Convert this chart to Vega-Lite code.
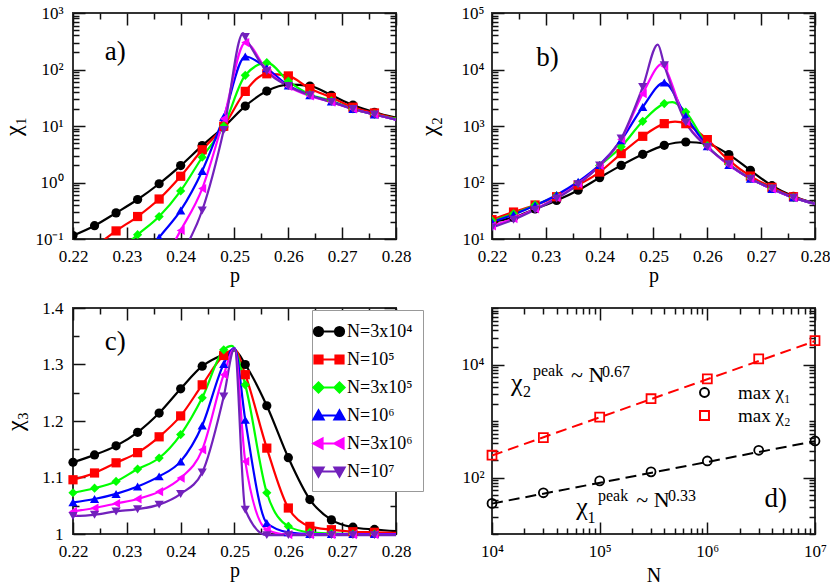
{
"$schema": "https://vega.github.io/schema/vega-lite/v6.json",
"padding": {"left": 0, "top": 3, "right": 5, "bottom": 0},
"background": "white",
"config": {
  "font": "Liberation Serif",
  "view": {"stroke": "#333333", "strokeWidth": 2},
  "axis": {"grid": false, "domain": false, "labelFont": "Liberation Serif", "labelFontSize": 17, "labelColor": "black", "titleFont": "Liberation Serif", "titleFontWeight": "normal", "titleColor": "black", "tickColor": "#111111", "tickWidth": 1.5, "labelOverlap": false, "labelFlush": false, "labelBound": false},
  "legend": {"labelFont": "Liberation Serif", "labelColor": "black"},
  "text": {"font": "Liberation Serif", "color": "black"}
},
"datasets": {
"a": [
{"s":"N=3x10⁴","p":0.22,"v":0.115,"m":1},{"s":"N=3x10⁴","p":0.224,"v":0.172,"m":1},{"s":"N=3x10⁴","p":0.228,"v":0.29,"m":1},{"s":"N=3x10⁴","p":0.232,"v":0.5,"m":1},{"s":"N=3x10⁴","p":0.236,"v":0.95,"m":1},{"s":"N=3x10⁴","p":0.24,"v":1.99,"m":1},{"s":"N=3x10⁴","p":0.244,"v":4.5,"m":1},{"s":"N=3x10⁴","p":0.248,"v":9.6,"m":1},{"s":"N=3x10⁴","p":0.252,"v":22.5,"m":1},{"s":"N=3x10⁴","p":0.256,"v":41.5,"m":1},{"s":"N=3x10⁴","p":0.26,"v":54,"m":1},{"s":"N=3x10⁴","p":0.264,"v":51,"m":1},{"s":"N=3x10⁴","p":0.268,"v":35,"m":1},{"s":"N=3x10⁴","p":0.272,"v":23.5,"m":1},{"s":"N=3x10⁴","p":0.276,"v":17.5,"m":1},{"s":"N=3x10⁴","p":0.28,"v":14,"m":0},
{"s":"N=10⁵","p":0.22,"v":0.038,"m":1},{"s":"N=10⁵","p":0.224,"v":0.072,"m":1},{"s":"N=10⁵","p":0.228,"v":0.139,"m":1},{"s":"N=10⁵","p":0.232,"v":0.25,"m":1},{"s":"N=10⁵","p":0.236,"v":0.51,"m":1},{"s":"N=10⁵","p":0.24,"v":1.29,"m":1},{"s":"N=10⁵","p":0.244,"v":3.8,"m":1},{"s":"N=10⁵","p":0.248,"v":9.9,"m":1},{"s":"N=10⁵","p":0.252,"v":41,"m":1},{"s":"N=10⁵","p":0.256,"v":84,"m":1},{"s":"N=10⁵","p":0.26,"v":77,"m":1},{"s":"N=10⁵","p":0.264,"v":46,"m":1},{"s":"N=10⁵","p":0.268,"v":32,"m":1},{"s":"N=10⁵","p":0.272,"v":21.5,"m":1},{"s":"N=10⁵","p":0.276,"v":17,"m":1},{"s":"N=10⁵","p":0.28,"v":13.5,"m":0},
{"s":"N=3x10⁵","p":0.228,"v":0.056,"m":1},{"s":"N=3x10⁵","p":0.232,"v":0.119,"m":1},{"s":"N=3x10⁵","p":0.236,"v":0.25,"m":1},{"s":"N=3x10⁵","p":0.24,"v":0.71,"m":1},{"s":"N=3x10⁵","p":0.244,"v":2.8,"m":1},{"s":"N=3x10⁵","p":0.248,"v":10,"m":1},{"s":"N=3x10⁵","p":0.252,"v":79,"m":1},{"s":"N=3x10⁵","p":0.256,"v":132,"m":1},{"s":"N=3x10⁵","p":0.26,"v":62,"m":1},{"s":"N=3x10⁵","p":0.264,"v":36,"m":1},{"s":"N=3x10⁵","p":0.268,"v":28,"m":1},{"s":"N=3x10⁵","p":0.272,"v":20,"m":1},{"s":"N=3x10⁵","p":0.276,"v":16,"m":1},{"s":"N=3x10⁵","p":0.28,"v":13.5,"m":0},
{"s":"N=10⁶","p":0.232,"v":0.03,"m":1},{"s":"N=10⁶","p":0.236,"v":0.106,"m":1},{"s":"N=10⁶","p":0.24,"v":0.32,"m":1},{"s":"N=10⁶","p":0.244,"v":1.6,"m":1},{"s":"N=10⁶","p":0.248,"v":14.4,"m":1},{"s":"N=10⁶","p":0.252,"v":170,"m":1},{"s":"N=10⁶","p":0.256,"v":105,"m":1},{"s":"N=10⁶","p":0.26,"v":52,"m":1},{"s":"N=10⁶","p":0.264,"v":35,"m":1},{"s":"N=10⁶","p":0.268,"v":27,"m":1},{"s":"N=10⁶","p":0.272,"v":20,"m":1},{"s":"N=10⁶","p":0.276,"v":16,"m":1},{"s":"N=10⁶","p":0.28,"v":13,"m":0},
{"s":"N=3x10⁶","p":0.236,"v":0.03,"m":1},{"s":"N=3x10⁶","p":0.24,"v":0.142,"m":1},{"s":"N=3x10⁶","p":0.244,"v":0.78,"m":1},{"s":"N=3x10⁶","p":0.248,"v":13.5,"m":1},{"s":"N=3x10⁶","p":0.252,"v":300,"m":1},{"s":"N=3x10⁶","p":0.256,"v":98,"m":1},{"s":"N=3x10⁶","p":0.26,"v":50,"m":1},{"s":"N=3x10⁶","p":0.264,"v":34,"m":1},{"s":"N=3x10⁶","p":0.268,"v":26.5,"m":1},{"s":"N=3x10⁶","p":0.272,"v":20,"m":1},{"s":"N=3x10⁶","p":0.276,"v":16,"m":1},{"s":"N=3x10⁶","p":0.28,"v":13,"m":0},
{"s":"N=10⁷","p":0.24,"v":0.05,"m":1},{"s":"N=10⁷","p":0.244,"v":0.32,"m":1},{"s":"N=10⁷","p":0.248,"v":8.5,"m":1},{"s":"N=10⁷","p":0.2516,"v":440,"m":0},{"s":"N=10⁷","p":0.252,"v":376,"m":1},{"s":"N=10⁷","p":0.256,"v":93,"m":1},{"s":"N=10⁷","p":0.26,"v":51,"m":1},{"s":"N=10⁷","p":0.264,"v":35,"m":1},{"s":"N=10⁷","p":0.268,"v":26.5,"m":1},{"s":"N=10⁷","p":0.272,"v":20,"m":1},{"s":"N=10⁷","p":0.276,"v":16,"m":1},{"s":"N=10⁷","p":0.28,"v":13,"m":0}
],
"b": [
{"s":"N=3x10⁴","p":0.22,"v":20,"m":1},{"s":"N=3x10⁴","p":0.224,"v":24,"m":1},{"s":"N=3x10⁴","p":0.228,"v":34,"m":1},{"s":"N=3x10⁴","p":0.232,"v":48,"m":1},{"s":"N=3x10⁴","p":0.236,"v":73,"m":1},{"s":"N=3x10⁴","p":0.24,"v":122,"m":1},{"s":"N=3x10⁴","p":0.244,"v":201,"m":1},{"s":"N=3x10⁴","p":0.248,"v":316,"m":1},{"s":"N=3x10⁴","p":0.252,"v":455,"m":1},{"s":"N=3x10⁴","p":0.256,"v":521,"m":1},{"s":"N=3x10⁴","p":0.26,"v":485,"m":1},{"s":"N=3x10⁴","p":0.264,"v":312,"m":1},{"s":"N=3x10⁴","p":0.268,"v":164,"m":1},{"s":"N=3x10⁴","p":0.272,"v":88,"m":1},{"s":"N=3x10⁴","p":0.276,"v":57,"m":1},{"s":"N=3x10⁴","p":0.28,"v":43,"m":0},
{"s":"N=10⁵","p":0.22,"v":22,"m":1},{"s":"N=10⁵","p":0.224,"v":30,"m":1},{"s":"N=10⁵","p":0.228,"v":40,"m":1},{"s":"N=10⁵","p":0.232,"v":56,"m":1},{"s":"N=10⁵","p":0.236,"v":90,"m":1},{"s":"N=10⁵","p":0.24,"v":153,"m":1},{"s":"N=10⁵","p":0.244,"v":325,"m":1},{"s":"N=10⁵","p":0.248,"v":657,"m":1},{"s":"N=10⁵","p":0.252,"v":1100,"m":1},{"s":"N=10⁵","p":0.254,"v":1200,"m":0},{"s":"N=10⁵","p":0.256,"v":1100,"m":1},{"s":"N=10⁵","p":0.26,"v":574,"m":1},{"s":"N=10⁵","p":0.264,"v":247,"m":1},{"s":"N=10⁵","p":0.268,"v":130,"m":1},{"s":"N=10⁵","p":0.272,"v":82,"m":1},{"s":"N=10⁵","p":0.276,"v":56,"m":1},{"s":"N=10⁵","p":0.28,"v":42,"m":0},
{"s":"N=3x10⁵","p":0.22,"v":21,"m":1},{"s":"N=3x10⁵","p":0.224,"v":28,"m":1},{"s":"N=3x10⁵","p":0.228,"v":40,"m":1},{"s":"N=3x10⁵","p":0.232,"v":58,"m":1},{"s":"N=3x10⁵","p":0.236,"v":97,"m":1},{"s":"N=3x10⁵","p":0.24,"v":200,"m":1},{"s":"N=3x10⁵","p":0.244,"v":430,"m":1},{"s":"N=3x10⁵","p":0.248,"v":1210,"m":1},{"s":"N=3x10⁵","p":0.252,"v":2490,"m":1},{"s":"N=3x10⁵","p":0.2535,"v":2650,"m":0},{"s":"N=3x10⁵","p":0.256,"v":1770,"m":1},{"s":"N=3x10⁵","p":0.26,"v":450,"m":1},{"s":"N=3x10⁵","p":0.264,"v":210,"m":1},{"s":"N=3x10⁵","p":0.268,"v":118,"m":1},{"s":"N=3x10⁵","p":0.272,"v":78,"m":1},{"s":"N=3x10⁵","p":0.276,"v":54,"m":1},{"s":"N=3x10⁵","p":0.28,"v":42,"m":0},
{"s":"N=10⁶","p":0.22,"v":20,"m":1},{"s":"N=10⁶","p":0.224,"v":27,"m":1},{"s":"N=10⁶","p":0.228,"v":39,"m":1},{"s":"N=10⁶","p":0.232,"v":60,"m":1},{"s":"N=10⁶","p":0.236,"v":103,"m":1},{"s":"N=10⁶","p":0.24,"v":205,"m":1},{"s":"N=10⁶","p":0.244,"v":560,"m":1},{"s":"N=10⁶","p":0.248,"v":2170,"m":1},{"s":"N=10⁶","p":0.252,"v":5860,"m":1},{"s":"N=10⁶","p":0.256,"v":1500,"m":1},{"s":"N=10⁶","p":0.26,"v":440,"m":1},{"s":"N=10⁶","p":0.264,"v":205,"m":1},{"s":"N=10⁶","p":0.268,"v":117,"m":1},{"s":"N=10⁶","p":0.272,"v":77,"m":1},{"s":"N=10⁶","p":0.276,"v":54,"m":1},{"s":"N=10⁶","p":0.28,"v":42,"m":0},
{"s":"N=3x10⁶","p":0.22,"v":17,"m":1},{"s":"N=3x10⁶","p":0.224,"v":23,"m":1},{"s":"N=3x10⁶","p":0.228,"v":34,"m":1},{"s":"N=3x10⁶","p":0.232,"v":54,"m":1},{"s":"N=3x10⁶","p":0.236,"v":95,"m":1},{"s":"N=3x10⁶","p":0.24,"v":200,"m":1},{"s":"N=3x10⁶","p":0.244,"v":580,"m":1},{"s":"N=3x10⁶","p":0.248,"v":3740,"m":1},{"s":"N=3x10⁶","p":0.2517,"v":12700,"m":0},{"s":"N=3x10⁶","p":0.252,"v":11500,"m":1},{"s":"N=3x10⁶","p":0.256,"v":1200,"m":1},{"s":"N=3x10⁶","p":0.26,"v":430,"m":1},{"s":"N=3x10⁶","p":0.264,"v":205,"m":1},{"s":"N=3x10⁶","p":0.268,"v":117,"m":1},{"s":"N=3x10⁶","p":0.272,"v":77,"m":1},{"s":"N=3x10⁶","p":0.276,"v":54,"m":1},{"s":"N=3x10⁶","p":0.28,"v":42,"m":0},
{"s":"N=10⁷","p":0.22,"v":16,"m":1},{"s":"N=10⁷","p":0.224,"v":22,"m":1},{"s":"N=10⁷","p":0.228,"v":33,"m":1},{"s":"N=10⁷","p":0.232,"v":52,"m":1},{"s":"N=10⁷","p":0.236,"v":93,"m":1},{"s":"N=10⁷","p":0.24,"v":200,"m":1},{"s":"N=10⁷","p":0.244,"v":600,"m":1},{"s":"N=10⁷","p":0.248,"v":4900,"m":1},{"s":"N=10⁷","p":0.2508,"v":27600,"m":0},{"s":"N=10⁷","p":0.252,"v":11900,"m":1},{"s":"N=10⁷","p":0.256,"v":1150,"m":1},{"s":"N=10⁷","p":0.26,"v":425,"m":1},{"s":"N=10⁷","p":0.264,"v":210,"m":1},{"s":"N=10⁷","p":0.268,"v":117,"m":1},{"s":"N=10⁷","p":0.272,"v":78,"m":1},{"s":"N=10⁷","p":0.276,"v":54,"m":1},{"s":"N=10⁷","p":0.28,"v":42,"m":0}
],
"c": [
{"s":"N=3x10⁴","p":0.22,"v":1.127,"m":1},{"s":"N=3x10⁴","p":0.224,"v":1.14,"m":1},{"s":"N=3x10⁴","p":0.228,"v":1.156,"m":1},{"s":"N=3x10⁴","p":0.232,"v":1.18,"m":1},{"s":"N=3x10⁴","p":0.236,"v":1.214,"m":1},{"s":"N=3x10⁴","p":0.24,"v":1.257,"m":1},{"s":"N=3x10⁴","p":0.244,"v":1.297,"m":1},{"s":"N=3x10⁴","p":0.248,"v":1.318,"m":1},{"s":"N=3x10⁴","p":0.25,"v":1.325,"m":0},{"s":"N=3x10⁴","p":0.252,"v":1.3,"m":1},{"s":"N=3x10⁴","p":0.256,"v":1.227,"m":1},{"s":"N=3x10⁴","p":0.26,"v":1.135,"m":1},{"s":"N=3x10⁴","p":0.264,"v":1.061,"m":1},{"s":"N=3x10⁴","p":0.268,"v":1.025,"m":1},{"s":"N=3x10⁴","p":0.272,"v":1.012,"m":1},{"s":"N=3x10⁴","p":0.276,"v":1.008,"m":1},{"s":"N=3x10⁴","p":0.28,"v":1.005,"m":0},
{"s":"N=10⁵","p":0.22,"v":1.096,"m":1},{"s":"N=10⁵","p":0.224,"v":1.108,"m":1},{"s":"N=10⁵","p":0.228,"v":1.126,"m":1},{"s":"N=10⁵","p":0.232,"v":1.144,"m":1},{"s":"N=10⁵","p":0.236,"v":1.172,"m":1},{"s":"N=10⁵","p":0.24,"v":1.209,"m":1},{"s":"N=10⁵","p":0.244,"v":1.264,"m":1},{"s":"N=10⁵","p":0.248,"v":1.316,"m":1},{"s":"N=10⁵","p":0.25,"v":1.327,"m":0},{"s":"N=10⁵","p":0.252,"v":1.282,"m":1},{"s":"N=10⁵","p":0.256,"v":1.152,"m":1},{"s":"N=10⁵","p":0.26,"v":1.046,"m":1},{"s":"N=10⁵","p":0.264,"v":1.0135,"m":1},{"s":"N=10⁵","p":0.268,"v":1.0076,"m":1},{"s":"N=10⁵","p":0.272,"v":1.004,"m":1},{"s":"N=10⁵","p":0.276,"v":1.003,"m":1},{"s":"N=10⁵","p":0.28,"v":1.002,"m":0},
{"s":"N=3x10⁵","p":0.22,"v":1.073,"m":1},{"s":"N=3x10⁵","p":0.224,"v":1.081,"m":1},{"s":"N=3x10⁵","p":0.228,"v":1.093,"m":1},{"s":"N=3x10⁵","p":0.232,"v":1.115,"m":1},{"s":"N=3x10⁵","p":0.236,"v":1.1345,"m":1},{"s":"N=3x10⁵","p":0.24,"v":1.176,"m":1},{"s":"N=3x10⁵","p":0.244,"v":1.241,"m":1},{"s":"N=3x10⁵","p":0.248,"v":1.326,"m":1},{"s":"N=3x10⁵","p":0.2495,"v":1.333,"m":0},{"s":"N=3x10⁵","p":0.252,"v":1.264,"m":1},{"s":"N=3x10⁵","p":0.256,"v":1.073,"m":1},{"s":"N=3x10⁵","p":0.26,"v":1.0135,"m":1},{"s":"N=3x10⁵","p":0.264,"v":1.003,"m":1},{"s":"N=3x10⁵","p":0.268,"v":1.001,"m":1},{"s":"N=3x10⁵","p":0.272,"v":1.0,"m":1},{"s":"N=3x10⁵","p":0.276,"v":1.0,"m":1},{"s":"N=3x10⁵","p":0.28,"v":1.0,"m":0},
{"s":"N=10⁶","p":0.22,"v":1.056,"m":1},{"s":"N=10⁶","p":0.224,"v":1.062,"m":1},{"s":"N=10⁶","p":0.228,"v":1.071,"m":1},{"s":"N=10⁶","p":0.232,"v":1.084,"m":1},{"s":"N=10⁶","p":0.236,"v":1.102,"m":1},{"s":"N=10⁶","p":0.24,"v":1.1285,"m":1},{"s":"N=10⁶","p":0.244,"v":1.192,"m":1},{"s":"N=10⁶","p":0.248,"v":1.301,"m":1},{"s":"N=10⁶","p":0.25,"v":1.329,"m":0},{"s":"N=10⁶","p":0.252,"v":1.202,"m":1},{"s":"N=10⁶","p":0.256,"v":1.0195,"m":1},{"s":"N=10⁶","p":0.26,"v":1.003,"m":1},{"s":"N=10⁶","p":0.264,"v":1.0,"m":1},{"s":"N=10⁶","p":0.268,"v":1.0,"m":1},{"s":"N=10⁶","p":0.272,"v":1.0,"m":1},{"s":"N=10⁶","p":0.276,"v":1.0,"m":1},{"s":"N=10⁶","p":0.28,"v":1.0,"m":0},
{"s":"N=3x10⁶","p":0.22,"v":1.04,"m":1},{"s":"N=3x10⁶","p":0.224,"v":1.046,"m":1},{"s":"N=3x10⁶","p":0.228,"v":1.054,"m":1},{"s":"N=3x10⁶","p":0.232,"v":1.062,"m":1},{"s":"N=3x10⁶","p":0.236,"v":1.075,"m":1},{"s":"N=3x10⁶","p":0.24,"v":1.099,"m":1},{"s":"N=3x10⁶","p":0.244,"v":1.149,"m":1},{"s":"N=3x10⁶","p":0.248,"v":1.282,"m":1},{"s":"N=3x10⁶","p":0.25,"v":1.328,"m":0},{"s":"N=3x10⁶","p":0.252,"v":1.1285,"m":1},{"s":"N=3x10⁶","p":0.256,"v":1.0076,"m":1},{"s":"N=3x10⁶","p":0.26,"v":0.999,"m":1},{"s":"N=3x10⁶","p":0.264,"v":0.999,"m":1},{"s":"N=3x10⁶","p":0.268,"v":0.999,"m":1},{"s":"N=3x10⁶","p":0.272,"v":0.999,"m":1},{"s":"N=3x10⁶","p":0.276,"v":0.999,"m":1},{"s":"N=3x10⁶","p":0.28,"v":0.999,"m":0},
{"s":"N=10⁷","p":0.22,"v":1.032,"m":1},{"s":"N=10⁷","p":0.224,"v":1.034,"m":1},{"s":"N=10⁷","p":0.228,"v":1.04,"m":1},{"s":"N=10⁷","p":0.232,"v":1.044,"m":1},{"s":"N=10⁷","p":0.236,"v":1.052,"m":1},{"s":"N=10⁷","p":0.24,"v":1.071,"m":1},{"s":"N=10⁷","p":0.244,"v":1.109,"m":1},{"s":"N=10⁷","p":0.248,"v":1.2435,"m":1},{"s":"N=10⁷","p":0.25,"v":1.328,"m":0},{"s":"N=10⁷","p":0.252,"v":1.043,"m":1},{"s":"N=10⁷","p":0.256,"v":0.998,"m":1},{"s":"N=10⁷","p":0.26,"v":0.998,"m":1},{"s":"N=10⁷","p":0.264,"v":0.998,"m":1},{"s":"N=10⁷","p":0.268,"v":0.998,"m":1},{"s":"N=10⁷","p":0.272,"v":0.998,"m":1},{"s":"N=10⁷","p":0.276,"v":0.998,"m":1},{"s":"N=10⁷","p":0.28,"v":0.998,"m":0}
],
"dpts": [
{"s":"max χ₁","N":10000,"v":34.8},{"s":"max χ₁","N":30000,"v":53.6},{"s":"max χ₁","N":100000,"v":87},{"s":"max χ₁","N":300000,"v":126},{"s":"max χ₁","N":1000000,"v":196},{"s":"max χ₁","N":3000000,"v":303},{"s":"max χ₁","N":10000000,"v":443},
{"s":"max χ₂","N":10000,"v":248},{"s":"max χ₂","N":30000,"v":508},{"s":"max χ₂","N":100000,"v":1173},{"s":"max χ₂","N":300000,"v":2477},{"s":"max χ₂","N":1000000,"v":5580},{"s":"max χ₂","N":3000000,"v":12600},{"s":"max χ₂","N":10000000,"v":26500}
],
"dfit": [
{"s":"max χ₁","N":10000,"v":34.5},{"s":"max χ₁","N":10000000,"v":440},
{"s":"max χ₂","N":10000,"v":245},{"s":"max χ₂","N":10000000,"v":26000}
]
},
"resolve": {"scale": {"color": "independent", "shape": "independent", "stroke": "independent"}, "legend": {"color": "independent", "shape": "independent", "stroke": "independent"}},
"columns": 2,
"bounds": "flush",
"spacing": {"row": 69, "column": 96},
"concat": [
{
 "width": 323, "height": 226,
 "data": {"name": "a"},
 "layer": [
  {"mark": {"type": "line", "interpolate": "monotone", "strokeWidth": 2.2, "clip": true},
   "encoding": {
    "x": {"field": "p", "type": "quantitative", "scale": {"domain": [0.22, 0.28], "nice": false, "zero": false},
      "axis": {"orient": "bottom", "values": [0.22,0.225,0.23,0.235,0.24,0.245,0.25,0.255,0.26,0.265,0.27,0.275,0.28], "labelFont": "Liberation Serif", "labelExpr": "abs(datum.value*100-round(datum.value*100))<0.001 ? format(datum.value,'.2f') : ''", "tickSize": {"condition": {"test": "abs(datum.value*100-round(datum.value*100))<0.001", "value": -12}, "value": -6}, "labelPadding": 21, "title": "p", "titleFontSize": 20, "titlePadding": -5}},
    "y": {"field": "v", "type": "quantitative", "scale": {"type": "log", "domain": [0.1, 1000], "nice": false},
      "axis": {"orient": "left", "values": [0.1,0.2,0.3,0.4,0.5,0.6,0.7,0.8,0.9,1,2,3,4,5,6,7,8,9,10,20,30,40,50,60,70,80,90,100,200,300,400,500,600,700,800,900,1000], "labelFont": "Liberation Serif", "labelExpr": "abs(log(datum.value)/LN10-round(log(datum.value)/LN10))<0.001 ? '10'+(datum.value<1?'⁻':'')+['⁰','¹','²','³','⁴','⁵','⁶','⁷','⁸','⁹'][abs(round(log(datum.value)/LN10))] : ''", "tickSize": {"condition": {"test": "abs(log(datum.value)/LN10-round(log(datum.value)/LN10))<0.001", "value": -12}, "value": -6}, "labelPadding": 22, "title": "χ₁", "titleFontSize": 24, "titlePadding": 9}},
    "color": {"field": "s", "type": "nominal", "scale": {"domain": ["N=3x10⁴","N=10⁵","N=3x10⁵","N=10⁶","N=3x10⁶","N=10⁷"], "range": ["#000000","#ff0000","#00ff00","#0000ff","#ff00ff","#7221bc"]}, "legend": null}
   }},
  {"transform": [{"filter": "datum.m == 1"}],
   "mark": {"type": "point", "filled": true, "size": 85, "opacity": 1, "clip": true},
   "encoding": {
    "x": {"field": "p", "type": "quantitative", "axis": {"orient": "top", "values": [0.22,0.225,0.23,0.235,0.24,0.245,0.25,0.255,0.26,0.265,0.27,0.275,0.28], "labels": false, "title": null, "tickSize": {"condition": {"test": "abs(datum.value*100-round(datum.value*100))<0.001", "value": -12}, "value": -6}}},
    "y": {"field": "v", "type": "quantitative", "axis": {"orient": "right", "values": [0.1,0.2,0.3,0.4,0.5,0.6,0.7,0.8,0.9,1,2,3,4,5,6,7,8,9,10,20,30,40,50,60,70,80,90,100,200,300,400,500,600,700,800,900,1000], "labels": false, "title": null, "tickSize": {"condition": {"test": "abs(log(datum.value)/LN10-round(log(datum.value)/LN10))<0.001", "value": -12}, "value": -6}}},
    "color": {"field": "s", "type": "nominal", "legend": null},
    "shape": {"field": "s", "type": "nominal", "scale": {"domain": ["N=3x10⁴","N=10⁵","N=3x10⁵","N=10⁶","N=3x10⁶","N=10⁷"], "range": ["circle","square","diamond","triangle-up","triangle-left","triangle-down"]}, "legend": null}
   }},
  {"data": {"values": [{"t": "a)", "p": 0.2259, "v": 145}]},
   "mark": {"type": "text", "align": "left", "baseline": "alphabetic", "fontSize": 27},
   "encoding": {"x": {"field": "p", "type": "quantitative", "axis": null}, "y": {"field": "v", "type": "quantitative", "axis": null}, "text": {"field": "t"}}}
 ],
 "resolve": {"axis": {"x": "independent", "y": "independent"}}
},
{
 "width": 323, "height": 226,
 "data": {"name": "b"},
 "layer": [
  {"mark": {"type": "line", "interpolate": "monotone", "strokeWidth": 2.2, "clip": true},
   "encoding": {
    "x": {"field": "p", "type": "quantitative", "scale": {"domain": [0.22, 0.28], "nice": false, "zero": false},
      "axis": {"orient": "bottom", "values": [0.22,0.225,0.23,0.235,0.24,0.245,0.25,0.255,0.26,0.265,0.27,0.275,0.28], "labelFont": "Liberation Serif", "labelExpr": "abs(datum.value*100-round(datum.value*100))<0.001 ? format(datum.value,'.2f') : ''", "tickSize": {"condition": {"test": "abs(datum.value*100-round(datum.value*100))<0.001", "value": -12}, "value": -6}, "labelPadding": 21, "title": "p", "titleFontSize": 20, "titlePadding": -5}},
    "y": {"field": "v", "type": "quantitative", "scale": {"type": "log", "domain": [10, 100000], "nice": false},
      "axis": {"orient": "left", "values": [10,20,30,40,50,60,70,80,90,100,200,300,400,500,600,700,800,900,1000,2000,3000,4000,5000,6000,7000,8000,9000,10000,20000,30000,40000,50000,60000,70000,80000,90000,100000], "labelFont": "Liberation Serif", "labelExpr": "abs(log(datum.value)/LN10-round(log(datum.value)/LN10))<0.001 ? '10'+(datum.value<1?'⁻':'')+['⁰','¹','²','³','⁴','⁵','⁶','⁷','⁸','⁹'][abs(round(log(datum.value)/LN10))] : ''", "tickSize": {"condition": {"test": "abs(log(datum.value)/LN10-round(log(datum.value)/LN10))<0.001", "value": -12}, "value": -6}, "labelPadding": 20, "title": "χ₂", "titleFontSize": 24, "titlePadding": 20}},
    "color": {"field": "s", "type": "nominal", "scale": {"domain": ["N=3x10⁴","N=10⁵","N=3x10⁵","N=10⁶","N=3x10⁶","N=10⁷"], "range": ["#000000","#ff0000","#00ff00","#0000ff","#ff00ff","#7221bc"]}, "legend": null}
   }},
  {"transform": [{"filter": "datum.m == 1"}],
   "mark": {"type": "point", "filled": true, "size": 85, "opacity": 1, "clip": true},
   "encoding": {
    "x": {"field": "p", "type": "quantitative", "axis": {"orient": "top", "values": [0.22,0.225,0.23,0.235,0.24,0.245,0.25,0.255,0.26,0.265,0.27,0.275,0.28], "labels": false, "title": null, "tickSize": {"condition": {"test": "abs(datum.value*100-round(datum.value*100))<0.001", "value": -12}, "value": -6}}},
    "y": {"field": "v", "type": "quantitative", "axis": {"orient": "right", "values": [10,20,30,40,50,60,70,80,90,100,200,300,400,500,600,700,800,900,1000,2000,3000,4000,5000,6000,7000,8000,9000,10000,20000,30000,40000,50000,60000,70000,80000,90000,100000], "labels": false, "title": null, "tickSize": {"condition": {"test": "abs(log(datum.value)/LN10-round(log(datum.value)/LN10))<0.001", "value": -12}, "value": -6}}},
    "color": {"field": "s", "type": "nominal", "legend": null},
    "shape": {"field": "s", "type": "nominal", "scale": {"domain": ["N=3x10⁴","N=10⁵","N=3x10⁵","N=10⁶","N=3x10⁶","N=10⁷"], "range": ["circle","square","diamond","triangle-up","triangle-left","triangle-down"]}, "legend": null}
   }},
  {"data": {"values": [{"t": "b)", "p": 0.2282, "v": 11400}]},
   "mark": {"type": "text", "align": "left", "baseline": "alphabetic", "fontSize": 27},
   "encoding": {"x": {"field": "p", "type": "quantitative", "axis": null}, "y": {"field": "v", "type": "quantitative", "axis": null}, "text": {"field": "t"}}}
 ],
 "resolve": {"axis": {"x": "independent", "y": "independent"}}
},
{
 "width": 323, "height": 226,
 "data": {"name": "c"},
 "layer": [
  {"mark": {"type": "line", "interpolate": "monotone", "strokeWidth": 2.2, "clip": false},
   "encoding": {
    "x": {"field": "p", "type": "quantitative", "scale": {"domain": [0.22, 0.28], "nice": false, "zero": false},
      "axis": {"orient": "bottom", "values": [0.22,0.225,0.23,0.235,0.24,0.245,0.25,0.255,0.26,0.265,0.27,0.275,0.28], "labelFont": "Liberation Serif", "labelExpr": "abs(datum.value*100-round(datum.value*100))<0.001 ? format(datum.value,'.2f') : ''", "tickSize": {"condition": {"test": "abs(datum.value*100-round(datum.value*100))<0.001", "value": -12}, "value": -6}, "labelPadding": 21, "title": "p", "titleFontSize": 20, "titlePadding": -5}},
    "y": {"field": "v", "type": "quantitative", "scale": {"domain": [1, 1.4], "nice": false, "zero": false},
      "axis": {"orient": "left", "values": [1,1.05,1.1,1.15,1.2,1.25,1.3,1.35,1.4], "labelFont": "Liberation Serif", "labelExpr": "abs(datum.value*10-round(datum.value*10))<0.001 ? (datum.value==1?'1':format(datum.value,'.1f')) : ''", "tickSize": {"condition": {"test": "abs(datum.value*10-round(datum.value*10))<0.001", "value": -12}, "value": -6}, "labelPadding": 22, "title": "χ₃", "titleFontSize": 24, "titlePadding": 14}},
    "color": {"field": "s", "type": "nominal", "scale": {"domain": ["N=3x10⁴","N=10⁵","N=3x10⁵","N=10⁶","N=3x10⁶","N=10⁷"], "range": ["#000000","#ff0000","#00ff00","#0000ff","#ff00ff","#7221bc"]}, "legend": null}
   }},
  {"transform": [{"filter": "datum.m == 1"}],
   "mark": {"type": "point", "filled": true, "size": 85, "opacity": 1, "clip": false},
   "encoding": {
    "x": {"field": "p", "type": "quantitative", "axis": {"orient": "top", "values": [0.22,0.225,0.23,0.235,0.24,0.245,0.25,0.255,0.26,0.265,0.27,0.275,0.28], "labels": false, "title": null, "tickSize": {"condition": {"test": "abs(datum.value*100-round(datum.value*100))<0.001", "value": -12}, "value": -6}}},
    "y": {"field": "v", "type": "quantitative", "axis": {"orient": "right", "values": [1,1.05,1.1,1.15,1.2,1.25,1.3,1.35,1.4], "labels": false, "title": null, "tickSize": {"condition": {"test": "abs(datum.value*10-round(datum.value*10))<0.001", "value": -12}, "value": -6}}},
    "color": {"field": "s", "type": "nominal", "scale": {"domain": ["N=3x10⁴","N=10⁵","N=3x10⁵","N=10⁶","N=3x10⁶","N=10⁷"], "range": ["#000000","#ff0000","#00ff00","#0000ff","#ff00ff","#7221bc"]}, "legend": null},
    "shape": {"field": "s", "type": "nominal", "scale": {"domain": ["N=3x10⁴","N=10⁵","N=3x10⁵","N=10⁶","N=3x10⁶","N=10⁷"], "range": ["circle","square","diamond","triangle-up","triangle-left","triangle-down"]}, "legend": null}
   }},
  {"transform": [{"filter": "false"}],
   "mark": {"type": "point", "filled": true, "size": 400, "strokeWidth": 2.2, "opacity": 1},
   "encoding": {
    "x": {"field": "p", "type": "quantitative", "axis": null},
    "y": {"field": "v", "type": "quantitative", "axis": null},
    "color": {"field": "s", "type": "nominal", "scale": {"domain": ["N=3x10⁴","N=10⁵","N=3x10⁵","N=10⁶","N=3x10⁶","N=10⁷"], "range": ["#000000","#ff0000","#00ff00","#0000ff","#ff00ff","#7221bc"]},
      "legend": {"orient": "none", "legendX": 239, "legendY": 2, "title": null, "symbolSize": 400, "symbolStrokeWidth": 2.2, "labelFont": "Liberation Serif", "labelFontSize": 18, "labelColor": "black", "labelOffset": 2, "rowPadding": 7, "padding": 10, "strokeColor": "#999999", "fillColor": "white"}},
    "stroke": {"field": "s", "type": "nominal", "scale": {"domain": ["N=3x10⁴","N=10⁵","N=3x10⁵","N=10⁶","N=3x10⁶","N=10⁷"], "range": ["#000000","#ff0000","#00ff00","#0000ff","#ff00ff","#7221bc"]},
      "legend": {"orient": "none", "legendX": 239, "legendY": 2, "title": null, "symbolSize": 400, "symbolStrokeWidth": 2.2, "labelFont": "Liberation Serif", "labelFontSize": 18, "labelColor": "black", "labelOffset": 2, "rowPadding": 7, "padding": 10, "strokeColor": "#999999", "fillColor": "white"}},
    "shape": {"field": "s", "type": "nominal", "scale": {"domain": ["N=3x10⁴","N=10⁵","N=3x10⁵","N=10⁶","N=3x10⁶","N=10⁷"], "range": ["M-1.8,0H0.9M-1.95,0A0.45,0.45,0,1,0,-1.05,0A0.45,0.45,0,1,0,-1.95,0ZM0.15,0A0.45,0.45,0,1,0,1.05,0A0.45,0.45,0,1,0,0.15,0Z","M-1.8,0H0.9M-1.9,-0.4H-1.1V0.4H-1.9ZM0.2,-0.4H1V0.4H0.2Z","M-1.8,0H0.9M-1.5,-0.5L-1,0L-1.5,0.5L-2,0ZM0.6,-0.5L1.1,0L0.6,0.5L0.1,0Z","M-1.8,0H0.9M-1.5,-0.5L-1,0.4L-2,0.4ZM0.6,-0.5L1.1,0.4L0.1,0.4Z","M-1.8,0H0.9M-2,0L-1.1,-0.5L-1.1,0.5ZM0.1,0L1,-0.5L1,0.5Z","M-1.8,0H0.9M-1.5,0.5L-1,-0.4L-2,-0.4ZM0.6,0.5L1.1,-0.4L0.1,-0.4Z"]},
      "legend": {"orient": "none", "legendX": 239, "legendY": 2, "title": null, "symbolSize": 400, "symbolStrokeWidth": 2.2, "labelFont": "Liberation Serif", "labelFontSize": 18, "labelColor": "black", "labelOffset": 2, "rowPadding": 7, "padding": 10, "strokeColor": "#999999", "fillColor": "white"}}
   }},
  {"data": {"values": [{"t": "c)", "p": 0.2259, "v": 1.326}]},
   "mark": {"type": "text", "align": "left", "baseline": "alphabetic", "fontSize": 27},
   "encoding": {"x": {"field": "p", "type": "quantitative", "axis": null}, "y": {"field": "v", "type": "quantitative", "axis": null}, "text": {"field": "t"}}}
 ],
 "resolve": {"scale": {"shape": "independent", "color": "independent", "stroke": "independent"}, "legend": {"shape": "independent", "color": "independent", "stroke": "independent"}, "axis": {"x": "independent", "y": "independent"}}
},
{
 "width": 323, "height": 226,
 "layer": [
  {"data": {"name": "dfit"},
   "transform": [{"filter": "datum.s == 'max χ₁'"}],
   "mark": {"type": "line", "strokeWidth": 2, "strokeDash": [11, 6], "color": "#000000"},
   "encoding": {
    "x": {"field": "N", "type": "quantitative", "scale": {"type": "log", "domain": [10000, 10000000], "nice": false},
      "axis": {"orient": "bottom", "values": [10000,20000,30000,40000,50000,60000,70000,80000,90000,100000,200000,300000,400000,500000,600000,700000,800000,900000,1000000,2000000,3000000,4000000,5000000,6000000,7000000,8000000,9000000,10000000], "labelFont": "Liberation Serif", "labelExpr": "abs(log(datum.value)/LN10-round(log(datum.value)/LN10))<0.001 ? '10'+['⁰','¹','²','³','⁴','⁵','⁶','⁷','⁸','⁹'][abs(round(log(datum.value)/LN10))] : ''", "tickSize": {"condition": {"test": "abs(log(datum.value)/LN10-round(log(datum.value)/LN10))<0.001", "value": -12}, "value": -6}, "labelPadding": 21, "title": "N", "titleFontSize": 20, "titlePadding": 0}},
    "y": {"field": "v", "type": "quantitative", "scale": {"type": "log", "domain": [10, 100000], "nice": false},
      "axis": {"orient": "left", "values": [10,20,30,40,50,60,70,80,90,100,200,300,400,500,600,700,800,900,1000,2000,3000,4000,5000,6000,7000,8000,9000,10000,20000,30000,40000,50000,60000,70000,80000,90000,100000], "labelFont": "Liberation Serif", "labelExpr": "datum.value==100 ? '10²' : datum.value==10000 ? '10⁴' : ''", "tickSize": {"condition": {"test": "datum.value==100 || datum.value==10000", "value": -12}, "value": -6}, "labelPadding": 20, "title": null}}
   }},
  {"data": {"name": "dfit"},
   "transform": [{"filter": "datum.s == 'max χ₂'"}],
   "mark": {"type": "line", "strokeWidth": 2, "strokeDash": [11, 6], "color": "#ff0000"},
   "encoding": {
    "x": {"field": "N", "type": "quantitative", "axis": null},
    "y": {"field": "v", "type": "quantitative", "axis": null}
   }},
  {"data": {"name": "dpts"},
   "mark": {"type": "point", "filled": false, "size": 80, "strokeWidth": 1.8, "opacity": 1},
   "encoding": {
    "x": {"field": "N", "type": "quantitative", "axis": {"orient": "top", "values": [10000,20000,30000,40000,50000,60000,70000,80000,90000,100000,200000,300000,400000,500000,600000,700000,800000,900000,1000000,2000000,3000000,4000000,5000000,6000000,7000000,8000000,9000000,10000000], "labels": false, "title": null, "tickSize": {"condition": {"test": "abs(log(datum.value)/LN10-round(log(datum.value)/LN10))<0.001", "value": -12}, "value": -6}}},
    "y": {"field": "v", "type": "quantitative", "axis": {"orient": "right", "values": [10,20,30,40,50,60,70,80,90,100,200,300,400,500,600,700,800,900,1000,2000,3000,4000,5000,6000,7000,8000,9000,10000,20000,30000,40000,50000,60000,70000,80000,90000,100000], "labels": false, "title": null, "tickSize": {"condition": {"test": "datum.value==100 || datum.value==10000", "value": -12}, "value": -6}}},
    "color": {"field": "s", "type": "nominal", "scale": {"domain": ["max χ₁","max χ₂"], "range": ["#000000","#ff0000"]},
      "legend": {"orient": "none", "legendX": 203, "legendY": 75, "title": null, "symbolSize": 80, "symbolStrokeWidth": 2, "labelFont": "Liberation Serif", "labelFontSize": 19, "labelColor": "black", "labelOffset": 24, "rowPadding": 3, "padding": 0}},
    "shape": {"field": "s", "type": "nominal", "scale": {"domain": ["max χ₁","max χ₂"], "range": ["circle","square"]},
      "legend": {"orient": "none", "legendX": 203, "legendY": 75, "title": null, "symbolSize": 80, "symbolStrokeWidth": 2, "labelFont": "Liberation Serif", "labelFontSize": 19, "labelColor": "black", "labelOffset": 24, "rowPadding": 3, "padding": 0}}
   }},
  {"data": {"values": [{"t": "χ", "N": 15010, "v": 3334}, {"t": "χ", "N": 60700, "v": 21.6}]},
   "mark": {"type": "text", "align": "left", "baseline": "alphabetic", "fontSize": 26},
   "encoding": {"x": {"field": "N", "type": "quantitative", "axis": null}, "y": {"field": "v", "type": "quantitative", "axis": null}, "text": {"field": "t"}}},
  {"data": {"values": [{"t": "~ N", "N": 54140, "v": 4805}, {"t": "~ N", "N": 218800, "v": 30.3}]},
   "mark": {"type": "text", "align": "left", "baseline": "alphabetic", "fontSize": 22},
   "encoding": {"x": {"field": "N", "type": "quantitative", "axis": null}, "y": {"field": "v", "type": "quantitative", "axis": null}, "text": {"field": "t"}}},
  {"data": {"values": [{"t": "2", "N": 19400, "v": 2612}, {"t": "peak", "N": 24030, "v": 6383}, {"t": "0.67", "N": 105050, "v": 5890}, {"t": "1", "N": 77000, "v": 15.6}, {"t": "peak", "N": 96400, "v": 38.6}, {"t": "0.33", "N": 430700, "v": 38.6}]},
   "mark": {"type": "text", "align": "left", "baseline": "alphabetic", "fontSize": 16},
   "encoding": {"x": {"field": "N", "type": "quantitative", "axis": null}, "y": {"field": "v", "type": "quantitative", "axis": null}, "text": {"field": "t"}}},
  {"data": {"values": [{"t": "d)", "N": 3400000, "v": 30.3}]},
   "mark": {"type": "text", "align": "left", "baseline": "alphabetic", "fontSize": 27},
   "encoding": {"x": {"field": "N", "type": "quantitative", "axis": null}, "y": {"field": "v", "type": "quantitative", "axis": null}, "text": {"field": "t"}}}
 ],
 "resolve": {"axis": {"x": "independent", "y": "independent"}}
}
]
}
